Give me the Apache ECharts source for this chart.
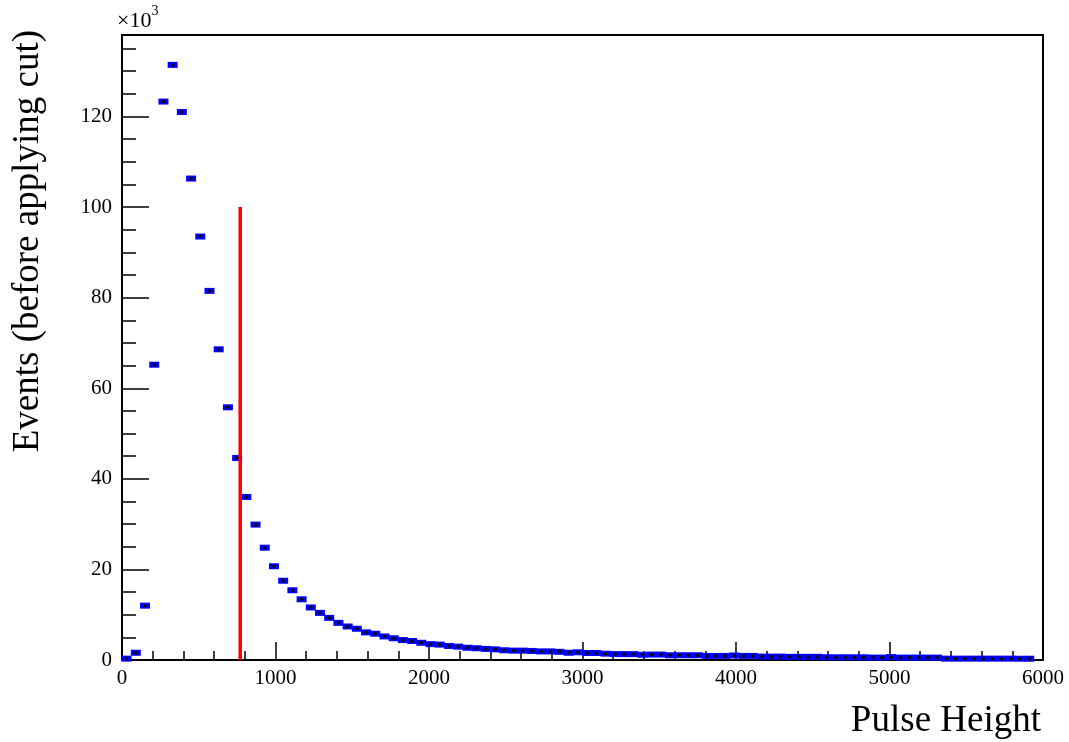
<!DOCTYPE html>
<html>
<head>
<meta charset="utf-8">
<script src="https://cdn.jsdelivr.net/npm/echarts@6/dist/echarts.min.js"></script>
<style>
html,body{margin:0;padding:0;background:#fff;}
#chart{width:1069px;height:742px;}
</style>
</head>
<body>
<div id="chart"></div>
<script>
// Histogram: 60-unit bins starting at 0 (values in thousands of events)
const binStart = 0;
const binWidth = 60;
const counts = [
  0.3, 1.6, 12.0, 65.2, 123.3, 131.4, 121.0, 106.3, 93.5, 81.5,
  68.6, 55.8, 44.6, 36.0, 29.9, 24.8, 20.7, 17.5, 15.4, 13.4,
  11.6, 10.4, 9.3, 8.2, 7.4, 6.9, 6.1, 5.8, 5.2, 4.8,
  4.4, 4.2, 3.8, 3.5, 3.4, 3.1, 2.95, 2.7, 2.6, 2.45,
  2.35, 2.15, 2.07, 2.07, 2.0, 1.9, 1.9, 1.8, 1.6, 1.7,
  1.55, 1.55, 1.4, 1.3, 1.3, 1.3, 1.15, 1.2, 1.2, 1.05,
  1.05, 1.05, 1.05, 0.9, 0.9, 0.9, 1.0, 0.9, 0.9, 0.75,
  0.75, 0.75, 0.7, 0.7, 0.7, 0.7, 0.6, 0.6, 0.6, 0.6,
  0.6, 0.53, 0.53, 0.65, 0.53, 0.53, 0.53, 0.53, 0.53, 0.3,
  0.3, 0.3, 0.3, 0.3, 0.3, 0.3, 0.3, 0.28, 0.28
];
const cutValue = 770;
const cutTop = 100;
const xTicks = [0, 1000, 2000, 3000, 4000, 5000, 6000];
const yTicks = [0, 20, 40, 60, 80, 100, 120];
const xTitle = 'Pulse Height';
const yTitle = 'Events (before applying cut)';

const points = counts.map((c, i) => [binStart + binWidth * (i + 0.5), c]);

const FONT = '"Liberation Serif", "DejaVu Serif", serif';
const chart = echarts.init(document.getElementById('chart'), null, {renderer: 'canvas'});
const axisCommon = {
  axisLine: {show: true, onZero: false, lineStyle: {color: '#000', width: 2}},
  splitLine: {show: false}
};
chart.setOption({
  animation: false,
  backgroundColor: '#fff',
  grid: {left: 122, right: 26, top: 35, bottom: 82, show: true, borderColor: '#000', borderWidth: 2, backgroundColor: 'transparent'},
  xAxis: Object.assign({}, axisCommon, {
    type: 'value', min: 0, max: 6000, interval: 1000,
    axisTick: {show: true, inside: true, length: 18, lineStyle: {color: '#000', width: 1.5}},
    minorTick: {show: true, splitNumber: 5, length: 9, lineStyle: {color: '#000', width: 1.5}},
    axisLabel: {color: '#000', fontFamily: FONT, fontSize: 21, margin: 8,
      formatter: v => xTicks.includes(v) ? String(v) : ''}
  }),
  yAxis: Object.assign({}, axisCommon, {
    type: 'value', min: 0, max: 138, interval: 20,
    axisTick: {show: true, inside: true, length: 27, lineStyle: {color: '#000', width: 1.5}},
    minorTick: {show: true, splitNumber: 4, length: 14, lineStyle: {color: '#000', width: 1.5}},
    axisLabel: {color: '#000', fontFamily: FONT, fontSize: 21, margin: 10, showMaxLabel: false,
      formatter: v => yTicks.includes(v) ? String(v) : ''}
  }),
  series: [
    {
      type: 'scatter', data: points, symbol: 'rect', symbolSize: [10, 6],
      itemStyle: {color: '#0000ff', opacity: 1}, z: 3
    },
    {
      type: 'scatter', data: points, symbol: 'circle', symbolSize: 3.5,
      itemStyle: {color: '#000', opacity: 1}, z: 4
    },
    {
      type: 'line', data: [[cutValue, 0], [cutValue, cutTop]], symbol: 'none',
      lineStyle: {color: '#ff0000', width: 3.5}, z: 5
    }
  ],
  graphic: [
    {
      type: 'text', left: 117, top: 4,
      style: {
        text: '{a|\u00d710}{b|3}', fill: '#000',
        rich: {
          a: {fontFamily: FONT, fontSize: 22, fill: '#000', verticalAlign: 'bottom', lineHeight: 28},
          b: {fontFamily: FONT, fontSize: 14, fill: '#000', verticalAlign: 'top', lineHeight: 28, padding: [0, 0, 12, 0]}
        }
      }
    },
    {
      type: 'text', x: 1041, y: 721,
      style: {text: xTitle, fontFamily: FONT, fontSize: 37, fill: '#000', textAlign: 'right', textVerticalAlign: 'middle'}
    },
    {
      type: 'text', x: 28, y: 30, rotation: Math.PI / 2,
      style: {text: yTitle, fontFamily: FONT, fontSize: 37, fill: '#000', textAlign: 'right', textVerticalAlign: 'middle'}
    }
  ]
});
</script>
</body>
</html>
